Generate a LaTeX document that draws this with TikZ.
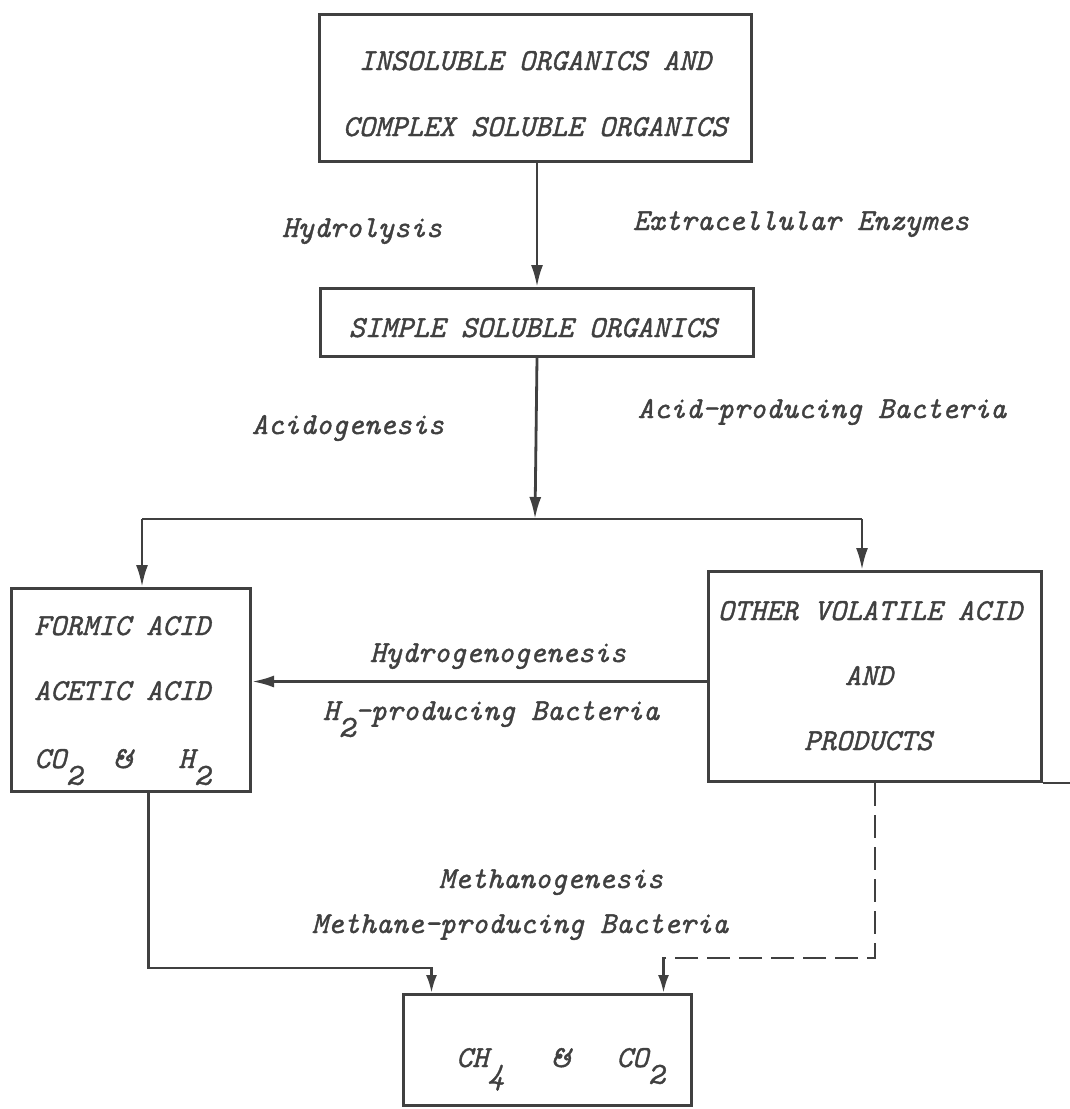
\documentclass[tikz,border=0pt]{standalone}
\usepackage{fontspec}
\setmonofont{Latin Modern Mono}[FakeBold=1.2]
\usetikzlibrary{arrows.meta}
\definecolor{ink}{HTML}{404040}
\newcommand\lsub[1]{\raisebox{-0.55em}{#1}}
\tikzset{
  box/.style={draw=ink, line width=3pt, inner sep=0pt, anchor=north west},
  txt/.style={text=ink, font=\ttfamily\fontsize{30.5}{36}\selectfont\itshape, inner sep=0pt, anchor=base},
  txtl/.style={txt, anchor=base west},
  ln/.style={draw=ink, line width=2.8pt},
  arr/.style={ln, -{Latex[length=22pt,width=12pt]}},
  arrs/.style={ln, -{Latex[length=18pt,width=11pt]}},
}
\begin{document}
\begin{tikzpicture}[x=1pt,y=-1pt]
\fill[white] (0,0) rectangle (1069,1109);
\useasboundingbox (0,0) rectangle (1069,1109);

% boxes
\node[box, minimum width=432pt, minimum height=147pt] (top) at (318,13) {};
\node[box, minimum width=433pt, minimum height=68pt] (simple) at (319,287) {};
\node[box, minimum width=239pt, minimum height=203pt] (left) at (10,587) {};
\node[box, minimum width=333pt, minimum height=210pt] (right) at (707,570) {};
\node[box, minimum width=288pt, minimum height=111pt] (bottom) at (402,993) {};

% box texts
\node[txt] (t1) at (535,70) {INSOLUBLE ORGANICS AND};
\node[txt] (t2) at (535,136) {COMPLEX SOLUBLE ORGANICS};
\node[txt] (s1) at (533,337) {SIMPLE SOLUBLE ORGANICS};
\node[txtl] (l1) at (34,635) {FORMIC ACID};
\node[txtl] (l2) at (34,700) {ACETIC ACID};
\node[txtl] (l3) at (34,768) {CO\lsub{2}~~\&~~~H\lsub{2}};
\node[txt] (r1) at (870,620) {OTHER VOLATILE ACID};
\node[txt] (r2) at (869,685) {AND};
\node[txt] (r3) at (868,750) {PRODUCTS};
\node[txtl] (b1) at (456,1067) {CH\lsub{4}~~~\&~~~CO\lsub{2}};

% process labels
\node[txt] (hyd) at (362,237) {Hydrolysis};
\node[txt] (enz) at (801,230) {Extracellular Enzymes};
\node[txt] (aci) at (348,434) {Acidogenesis};
\node[txt] (apb) at (822,418) {Acid-producing Bacteria};
\node[txt] (hgg) at (498,662) {Hydrogenogenesis};
\node[txt] (hpb) at (491,720) {H\lsub{2}-producing Bacteria};
\node[txt] (mgg) at (551,888) {Methanogenesis};
\node[txt] (mpb) at (520,933) {Methane-producing Bacteria};

% connectors
\coordinate (j)  at (535,519);
\coordinate (jl) at (142,519);
\coordinate (jr) at (862,519);
\draw[arr] (simple.north |- top.south) -- (simple.north);
\draw[arr] (simple.south) -- (j);
\draw[ln] (jl) -- (jr);
\draw[arr] (jl) -- (jl |- left.north);
\draw[arr] (jr) -- (jr |- right.north);
\draw[arr] ([yshift=-5pt]right.west) -- ([yshift=-5pt]right.west -| left.east);
\draw[arrs] ([xshift=17.5pt]left.south) |- ([xshift=-116pt,yshift=25pt]bottom.north) -- ([xshift=-116pt]bottom.north);
\draw[arrs, dash pattern=on 23pt off 9pt] (right.south) |- ([xshift=116pt,yshift=35pt]bottom.north) -- ([xshift=116pt]bottom.north);
\draw[ln] (right.south east) -- ++(29,0);
\end{tikzpicture}
\end{document}
